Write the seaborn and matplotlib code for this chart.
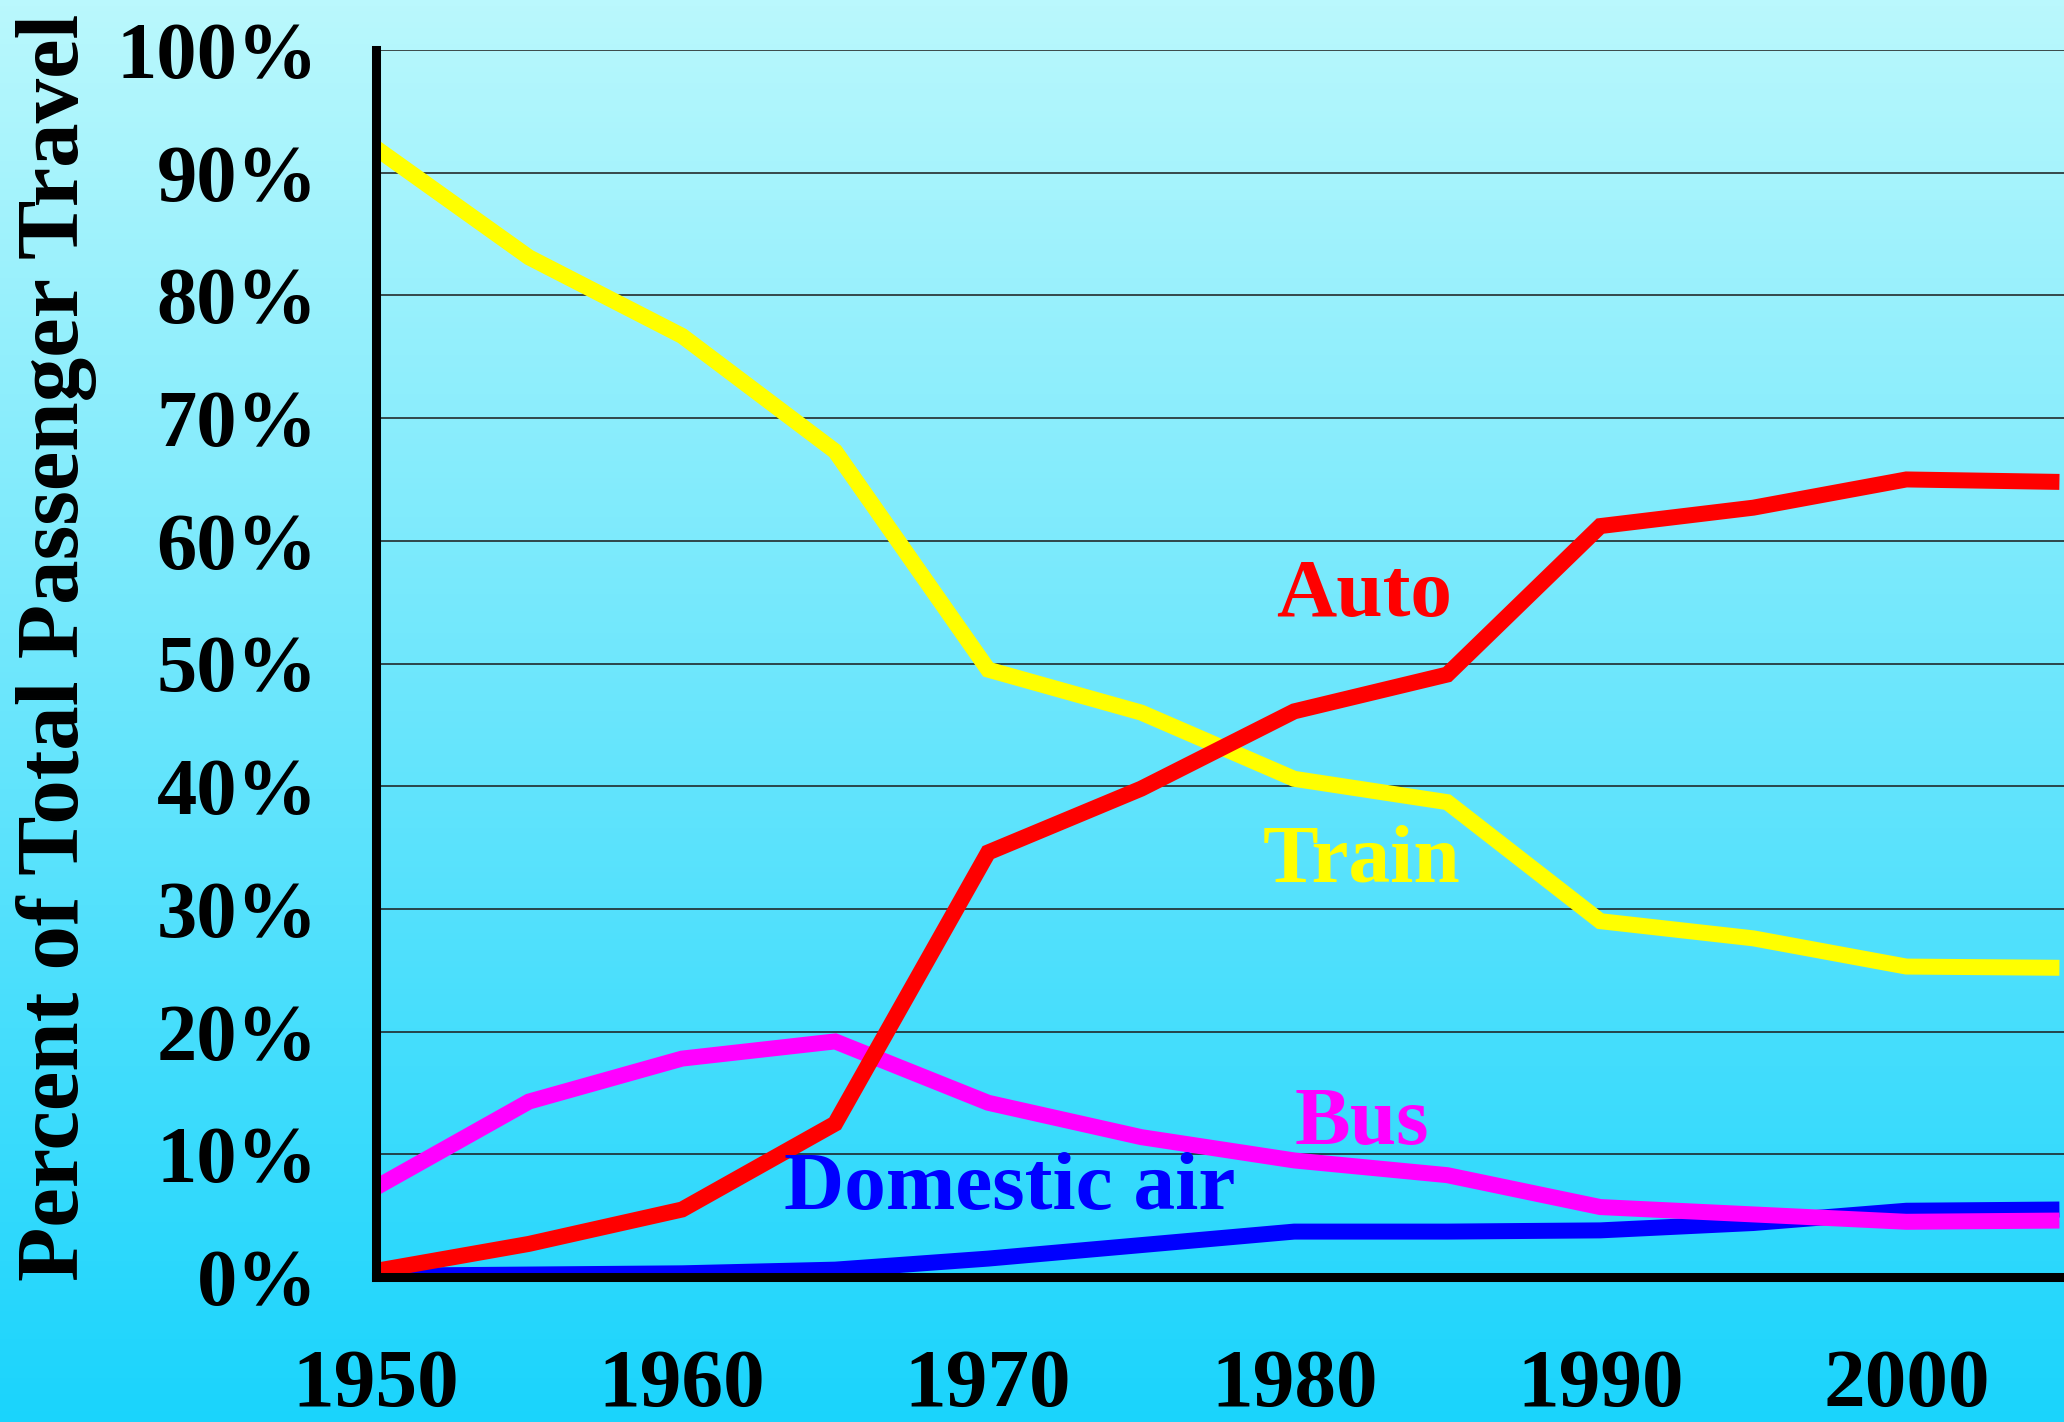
import numpy as np
import pandas as pd
import matplotlib
matplotlib.use("Agg")
import matplotlib.pyplot as plt
import matplotlib.ticker as mtick
import seaborn as sns

# share of passenger travel (%)
years = [1950, 1955, 1960, 1965, 1970, 1975, 1980, 1985, 1990, 1995, 2000, 2005]
auto = [0.5, 2.7, 5.5, 12.5, 34.6, 39.8, 46.1, 49.1, 61.2, 62.7, 65.0, 64.8]
train = [92.0, 83.1, 76.7, 67.3, 49.5, 46.0, 40.6, 38.7, 29.0, 27.6, 25.3, 25.2]
bus = [7.3, 14.3, 17.8, 19.2, 14.2, 11.4, 9.5, 8.3, 5.7, 5.1, 4.5, 4.6]
air = [0.1, 0.2, 0.3, 0.6, 1.5, 2.6, 3.7, 3.7, 3.8, 4.4, 5.4, 5.5]

series_names = ["Domestic air", "Train", "Bus", "Auto"]
series_colors = {"Domestic air": "#0000FF", "Train": "#FFFF00", "Bus": "#FF00FF", "Auto": "#FF0000"}
x_labels = ["1950", "1960", "1970", "1980", "1990", "2000"]
y_label = "Percent of Total Passenger Travel"

df = pd.DataFrame({"year": years, "Auto": auto, "Train": train, "Bus": bus, "Domestic air": air})
df_long = df.melt(id_vars="year", var_name="mode", value_name="pct")

sns.set_style("white")
plt.rcParams['font.family'] = ['Liberation Serif', 'DejaVu Serif']
plt.rcParams['font.weight'] = 'bold'
plt.rcParams['text.color'] = 'black'
plt.rcParams['xtick.color'] = 'black'
plt.rcParams['ytick.color'] = 'black'

fig = plt.figure(figsize=(20.64, 14.22), dpi=100)

# gradient background over the whole figure
bg = fig.add_axes([0, 0, 1, 1], zorder=-10)
top = np.array([186, 248, 253]) / 255
bot = np.array([26, 212, 252]) / 255
t = np.linspace(0, 1, 256)[:, None]
grad = (top[None, :] * (1 - t) + bot[None, :] * t)[:, None, :]
bg.imshow(grad, aspect='auto', extent=[0, 1, 0, 1])
bg.axis('off')

ax = fig.add_axes([376 / 2064, 145 / 1422, 1 - 376 / 2064, (1277 - 50) / 1422])
ax.patch.set_alpha(0)

for name in series_names:
    sub = df_long[df_long["mode"] == name]
    sns.lineplot(data=sub, x="year", y="pct", color=series_colors[name], linewidth=11.5,
                 ax=ax, legend=False, solid_capstyle='butt', solid_joinstyle='miter')

ax.set_xlim(1950, 2005.15)
ax.set_ylim(0, 100)
ax.set_xlabel("")
ax.set_ylabel("")

ax.yaxis.set_major_locator(mtick.MultipleLocator(10))
ax.yaxis.set_major_formatter(mtick.FuncFormatter(lambda v, pos: f"{v:.0f}%"))
ax.set_xticks([1950, 1960, 1970, 1980, 1990, 2000])
ax.set_xticklabels(x_labels)
ax.set_xticks([1955, 1965, 1975, 1985, 1995, 2005], minor=True)

ax.grid(axis='y', color='#1a1a1a', linewidth=1.1)
ax.set_axisbelow(True)
for s in ["top", "right"]:
    ax.spines[s].set_visible(False)
for s in ["left", "bottom"]:
    ax.spines[s].set_linewidth(6.5)
    ax.spines[s].set_color('black')
    ax.spines[s].set_zorder(5)

ax.tick_params(axis='both', which='both', direction='out', length=22, width=6, color='black')
ax.tick_params(axis='y', labelsize=58, pad=20, labelcolor='black')
ax.tick_params(axis='x', labelsize=60, pad=30, labelcolor='black')
for lab in ax.get_xticklabels() + ax.get_yticklabels():
    lab.set_fontweight('bold')

fig.text(57 / 2064, 0.545, y_label, rotation=90, ha='center', va='center',
         fontsize=64, fontweight='bold', color='black')

ax.text(1982.3, 55.5, "Auto", color="#FF0000", fontsize=60, fontweight='bold', ha='center', va='center')
ax.text(1982.2, 33.8, "Train", color="#FFFF00", fontsize=60, fontweight='bold', ha='center', va='center')
ax.text(1982.2, 12.4, "Bus", color="#FF00FF", fontsize=60, fontweight='bold', ha='center', va='center')
ax.text(1970.7, 7.1, "Domestic air", color="#0000FF", fontsize=60, fontweight='bold', ha='center', va='center')

fig.savefig("out.png", dpi=100)
